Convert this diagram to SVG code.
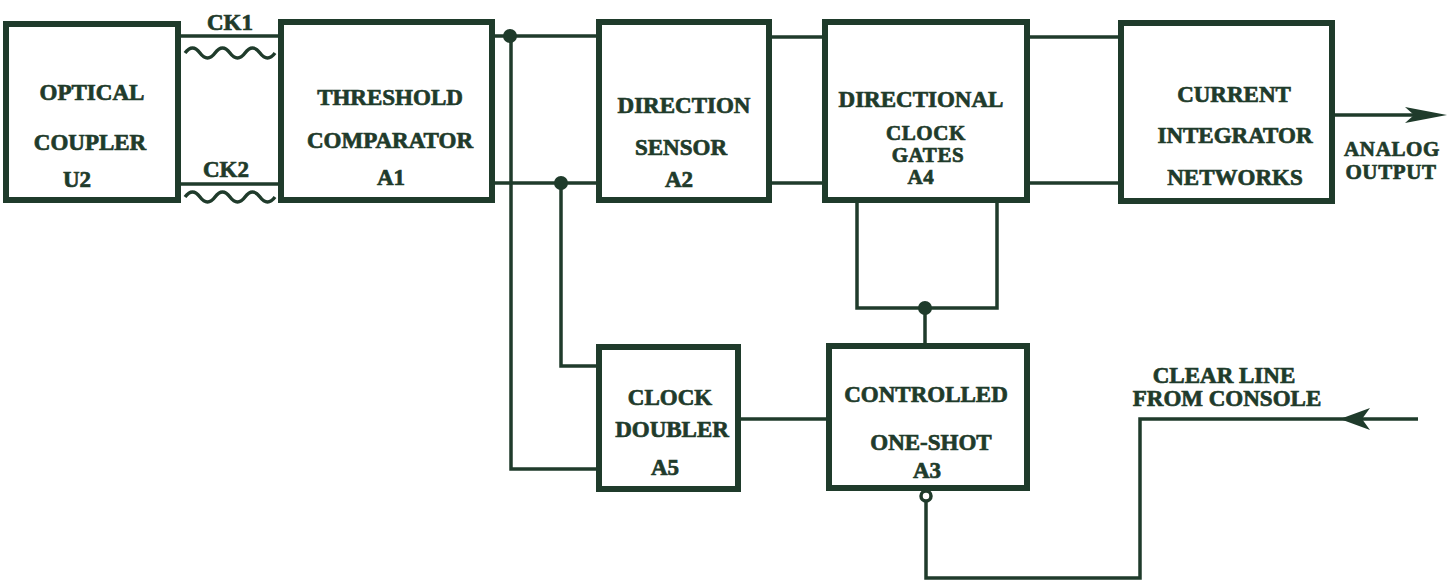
<svg xmlns="http://www.w3.org/2000/svg" width="1454" height="583" viewBox="0 0 1454 583">
<style>
.box{fill:#fff;stroke:#1f3b2b;stroke-width:6}
.ln{fill:none;stroke:#1f3b2b;stroke-width:3.5}
.dot{fill:#1f3b2b}
text{font-family:"Liberation Serif","Times New Roman",serif;font-weight:bold;font-size:23px;fill:#1f3b2b;stroke:#1f3b2b;stroke-width:0.7;text-anchor:middle}
.sm{font-size:21px;letter-spacing:0.6px}
</style>
<rect width="1454" height="583" fill="#fff"/>
<g id="connectors">
<path class="ln" d="M178,36 H280 M178,184 H280"/>
<path class="ln" d="M185,53 q7.5,-10 15,0 t15,0 t15,0 t15,0 t15,0 t15,0"/>
<path class="ln" d="M185,197 q7.5,-10 15,0 t15,0 t15,0 t15,0 t15,0 t15,0"/>
<path class="ln" d="M492,36 H598 M511,36 V469 H598"/>
<path class="ln" d="M492,183 H598 M561,183 V366 H598"/>
<circle class="dot" cx="510" cy="36" r="7"/>
<circle class="dot" cx="561" cy="183" r="7"/>
<path class="ln" d="M770,37 H825 M770,183 H825"/>
<path class="ln" d="M1027,37 H1120 M1027,183 H1120"/>
<path class="ln" d="M1333,115 H1420"/>
<path class="dot" d="M1447,115 L1405,107 L1414,115 L1405,123 Z"/>
<path class="ln" d="M857,200 V308 H997 V200 M925,308 V345"/>
<circle class="dot" cx="925" cy="308" r="7"/>
<path class="ln" d="M738,419 H828"/>
<circle cx="926" cy="496" r="5" fill="#fff" stroke="#1f3b2b" stroke-width="3.5"/>
<path class="ln" d="M926,501 V578 H1140 V419 H1418"/>
<path class="dot" d="M1340,419 L1370,408 L1362,419 L1370,430 Z"/>
<text x="230" y="30">CK1</text>
<text x="226" y="177">CK2</text>
<text class="sm" x="1392" y="156">ANALOG</text>
<text class="sm" x="1391" y="179">OUTPUT</text>
<text x="1224" y="383">CLEAR LINE</text>
<text x="1227" y="406">FROM CONSOLE</text>
</g>
<g id="U2">
<rect class="box" x="6" y="24" width="172" height="176"/>
<text x="92" y="100">OPTICAL</text>
<text x="90" y="150">COUPLER</text>
<text x="77" y="187">U2</text>
</g>
<g id="A1">
<rect class="box" x="281" y="22" width="211" height="178"/>
<text x="390" y="105">THRESHOLD</text>
<text x="390" y="148">COMPARATOR</text>
<text x="391" y="185">A1</text>
</g>
<g id="A2">
<rect class="box" x="599" y="22" width="170" height="178"/>
<text x="684" y="113">DIRECTION</text>
<text x="681" y="155">SENSOR</text>
<text x="679" y="187">A2</text>
</g>
<g id="A4">
<rect class="box" x="825" y="22" width="202" height="178"/>
<text x="921" y="107">DIRECTIONAL</text>
<text class="sm" x="926" y="140">CLOCK</text>
<text class="sm" x="928" y="162">GATES</text>
<text class="sm" x="921" y="184">A4</text>
</g>
<g id="integrator">
<rect class="box" x="1121" y="23" width="211" height="178"/>
<text x="1234" y="102">CURRENT</text>
<text x="1235" y="143">INTEGRATOR</text>
<text x="1235" y="185">NETWORKS</text>
</g>
<g id="A5">
<rect class="box" x="599" y="347" width="139" height="142"/>
<text x="670" y="405">CLOCK</text>
<text x="672" y="437">DOUBLER</text>
<text x="665" y="475">A5</text>
</g>
<g id="A3">
<rect class="box" x="829" y="346" width="198" height="142"/>
<text x="926" y="402">CONTROLLED</text>
<text x="931" y="450">ONE-SHOT</text>
<text x="927" y="478">A3</text>
</g>
</svg>
